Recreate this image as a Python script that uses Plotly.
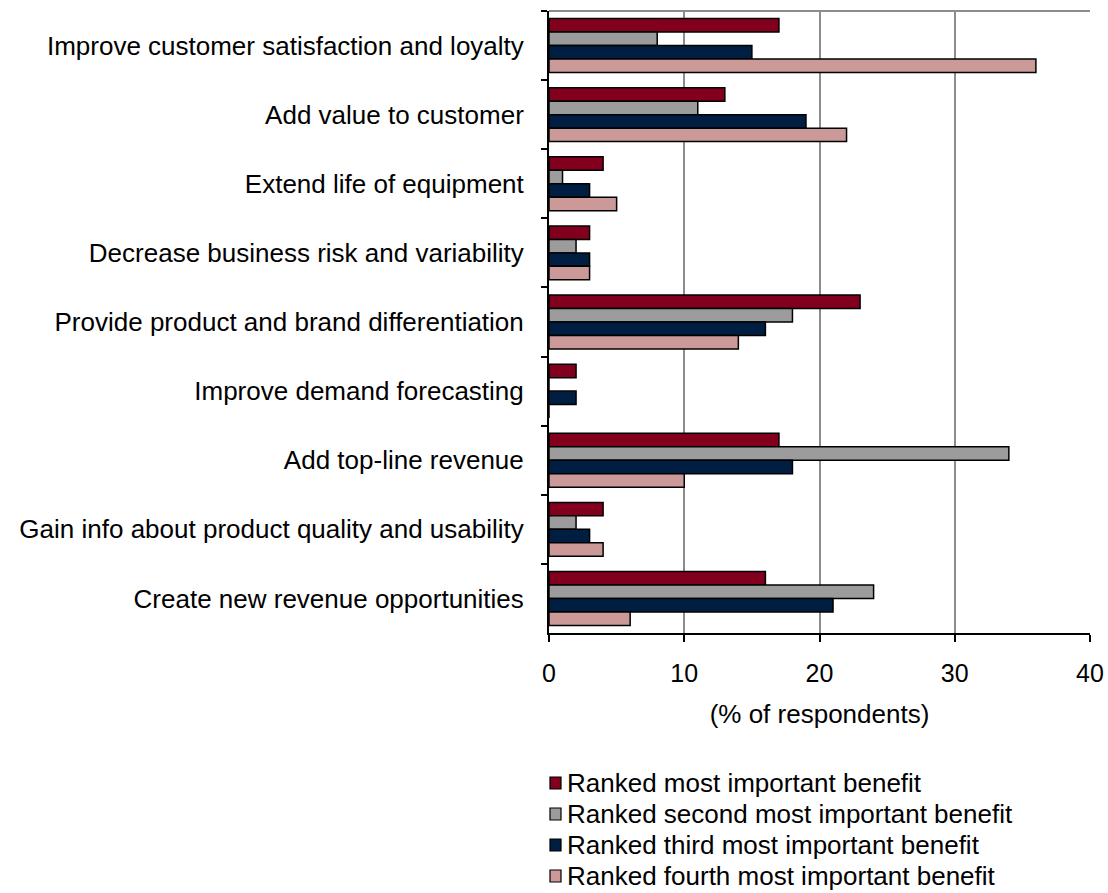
import plotly.graph_objects as go

# Benefit categories, listed top to bottom
categories = [
    "Improve customer satisfaction and loyalty",
    "Add value to customer",
    "Extend life of equipment",
    "Decrease business risk and variability",
    "Provide product and brand differentiation",
    "Improve demand forecasting",
    "Add top-line revenue",
    "Gain info about product quality and usability",
    "Create new revenue opportunities",
]

# Share of respondents (%) by ranking
most_important = [17, 13, 4, 3, 23, 2, 17, 4, 16]
second_most = [8, 11, 1, 2, 18, 0, 34, 2, 24]
third_most = [15, 19, 3, 3, 16, 2, 18, 3, 21]
fourth_most = [36, 22, 5, 3, 14, 0, 10, 4, 6]

series_names = [
    "Ranked most important benefit",
    "Ranked second most important benefit",
    "Ranked third most important benefit",
    "Ranked fourth most important benefit",
]
series_values = [most_important, second_most, third_most, fourth_most]
series_colors = ["#82001E", "#9C9C9C", "#001E42", "#CC9999"]

x_ticks = [0, 10, 20, 30, 40]

FONT = "Liberation Sans, Arial, sans-serif"
FS_TEXT = 26   # category labels, axis title, legend
FS_NUM = 25    # numeric tick labels

W, H = 1108, 893
L, R, T, B = 549, 1090, 11, 633  # plot area edges in pixels


def px_x(px):
    return (px - L) / (R - L)


def px_y(py):
    return (B - py) / (B - T)


fig = go.Figure()
for name, vals, col in zip(series_names, series_values, series_colors):
    fig.add_trace(go.Bar(
        y=categories,
        x=vals,
        name=name,
        orientation="h",
        marker=dict(color=col, line=dict(color="black", width=1.5)),
    ))

fig.update_layout(
    width=W,
    height=H,
    margin=dict(l=L, r=W - R, t=T, b=H - B, autoexpand=False),
    barmode="group",
    bargap=0.22,
    bargroupgap=0,
    plot_bgcolor="white",
    paper_bgcolor="white",
    font=dict(family=FONT, size=FS_TEXT, color="black"),
    showlegend=False,
    xaxis=dict(
        range=[0, 40],
        tickvals=x_ticks,
        ticktext=[str(v) for v in x_ticks],
        showgrid=True,
        gridcolor="#8C8C8C",
        gridwidth=2,
        zeroline=False,
        showline=True,
        linecolor="black",
        linewidth=2,
        ticks="outside",
        ticklen=7,
        tickwidth=2,
        tickcolor="black",
        ticklabelstandoff=10,
        title=dict(text="(% of respondents)", standoff=19,
                   font=dict(family=FONT, size=FS_TEXT)),
        tickfont=dict(family=FONT, size=FS_NUM),
    ),
    yaxis=dict(
        type="category",
        autorange="reversed",
        showgrid=False,
        showline=True,
        linecolor="black",
        linewidth=2,
        ticks="outside",
        tickson="boundaries",
        ticklen=6,
        tickwidth=2,
        tickcolor="black",
        ticklabelstandoff=18,
        tickfont=dict(family=FONT, size=FS_TEXT),
    ),
)

# Light frame along the top of the plotting area
fig.add_shape(type="line", xref="paper", yref="paper", x0=0, x1=1, y0=1, y1=1,
              line=dict(color="#8C8C8C", width=2), layer="below")

# Legend below the chart: small outlined swatches with labels
row_y = [783, 814, 845, 876]
for name, col, ry in zip(series_names, series_colors, row_y):
    fig.add_shape(
        type="rect", xref="paper", yref="paper",
        x0=px_x(550), x1=px_x(561), y0=px_y(ry + 6), y1=px_y(ry - 6),
        fillcolor=col, line=dict(color="black", width=1.2), layer="above",
    )
    fig.add_annotation(
        xref="paper", yref="paper", x=px_x(565), y=px_y(ry),
        text=name, showarrow=False, xanchor="left", yanchor="middle",
        font=dict(family=FONT, size=FS_TEXT, color="black"),
    )

fig.write_html("out.html")
